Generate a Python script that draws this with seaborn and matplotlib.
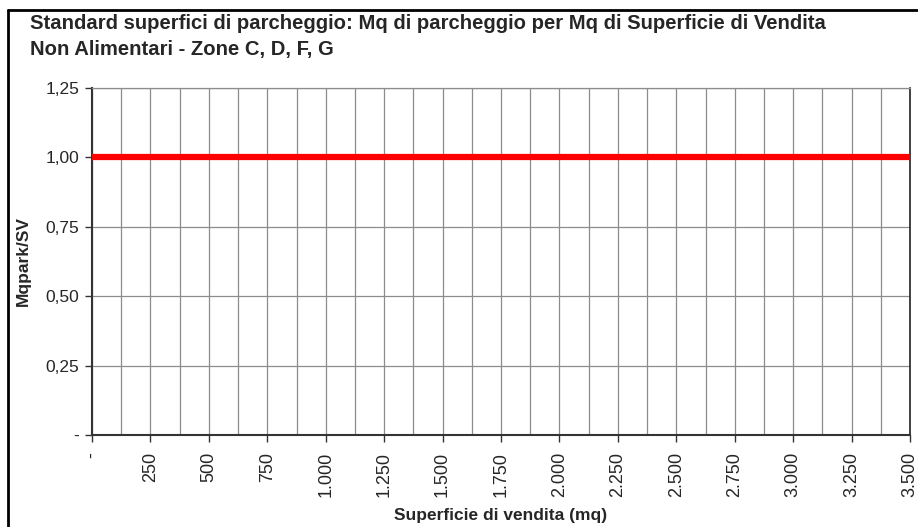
import matplotlib
matplotlib.use('Agg')
import matplotlib.pyplot as plt
import pandas as pd
import numpy as np
import seaborn as sns
from matplotlib.ticker import MultipleLocator, FuncFormatter
from matplotlib.lines import Line2D

# data
superficie = [0, 3500]
mq_park = [1.0, 1.0]

title = 'Standard superfici di parcheggio: Mq di parcheggio per Mq di Superficie di Vendita\nNon Alimentari - Zone C, D, F, G'
x_label = 'Superficie di vendita (mq)'
y_label = 'Mqpark/SV'


def fmt_x(v, pos):
	if abs(v) < 1e-9:
		return '-'
	return '{:,.0f}'.format(v).replace(',', '.')


def fmt_y(v, pos):
	if abs(v) < 1e-9:
		return '-'
	return '{:.2f}'.format(v).replace('.', ',')


sns.set_style('white')
plt.rcParams['font.family'] = ['Liberation Sans', 'DejaVu Sans']

fig = plt.figure(figsize=(9.18, 5.27), dpi=100)
W, H = 918, 527
ax = fig.add_axes([92 / W, 1 - 435 / H, (910 - 92) / W, (435 - 88) / H])

df = pd.DataFrame({'x': superficie, 'y': mq_park})
sns.lineplot(data=df, x='x', y='y', ax=ax, color='#ff0000', linewidth=4.5, zorder=5)

ax.set_xlim(0, 3500)
ax.set_ylim(0, 1.25)
ax.xaxis.set_major_locator(MultipleLocator(250))
ax.xaxis.set_minor_locator(MultipleLocator(125))
ax.yaxis.set_major_locator(MultipleLocator(0.25))
ax.xaxis.set_major_formatter(FuncFormatter(fmt_x))
ax.yaxis.set_major_formatter(FuncFormatter(fmt_y))

ax.grid(True, which='both', axis='x', color='#8c8c8c', linewidth=0.9)
ax.grid(True, which='major', axis='y', color='#8c8c8c', linewidth=0.9)
ax.set_axisbelow(True)

for s in ['left', 'bottom']:
	ax.spines[s].set_color('#333333')
	ax.spines[s].set_linewidth(1.5)
ax.spines['top'].set_color('#8c8c8c')
ax.spines['top'].set_linewidth(0.9)
ax.spines['right'].set_color('#222222')
ax.spines['right'].set_linewidth(1.2)

ax.tick_params(axis='x', which='major', direction='out', length=5, width=1, color='#333333',
			   labelsize=13, rotation=90, pad=7)
ax.tick_params(axis='x', which='minor', length=0)
ax.tick_params(axis='y', direction='out', length=5, width=1, color='#333333', labelsize=12.5, pad=4)
ax.tick_params(left=True, bottom=True)

ax.set_xlabel(x_label, fontsize=12.5, fontweight='bold')
ax.set_ylabel(y_label, fontsize=12.5, fontweight='bold')
ax.yaxis.set_label_coords(-0.075, 0.5)
ax.xaxis.set_label_coords(0.5, -0.21)

fig.text(30 / W, 1 - 14 / H, title, fontsize=14.6, fontweight='bold', va='top', ha='left', linespacing=1.5)

# outer frame (top and left edges visible)
fig.lines.append(Line2D([7.5 / W, 7.5 / W], [0, 1 - 10 / H], transform=fig.transFigure, color='black', linewidth=2))
fig.lines.append(Line2D([7.5 / W, 1], [1 - 10 / H, 1 - 10 / H], transform=fig.transFigure, color='black', linewidth=2))

fig.savefig('out.png', dpi=100)
